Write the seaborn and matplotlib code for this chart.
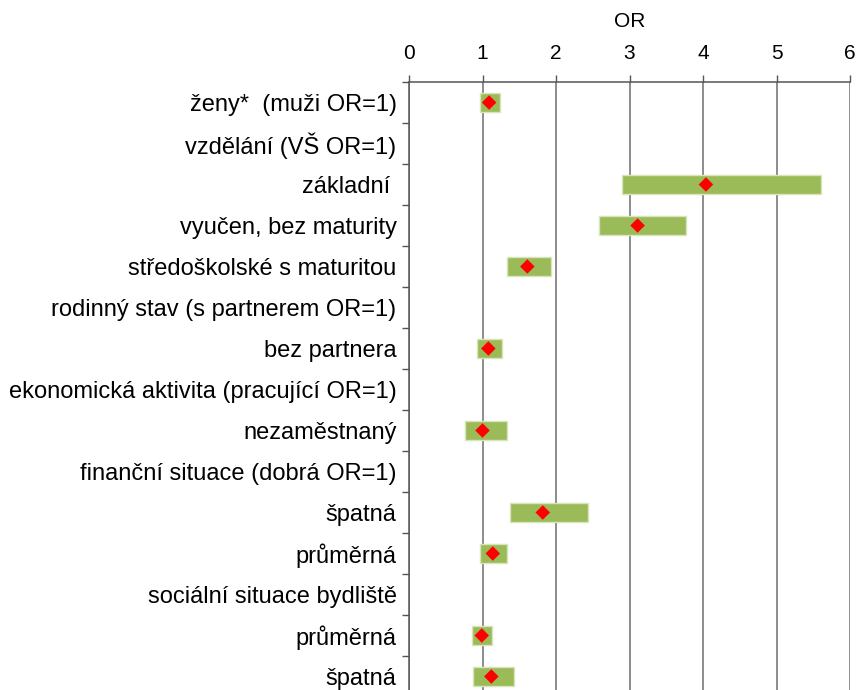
import numpy as np
import pandas as pd
import matplotlib
matplotlib.use("Agg")
import matplotlib.pyplot as plt
import seaborn as sns

# Odds ratios with 95% confidence intervals (NaN rows are group headers)
labels = [
    "ženy*  (muži OR=1)",
    "vzdělání (VŠ OR=1)",
    "základní ",
    "vyučen, bez maturity",
    "středoškolské s maturitou",
    "rodinný stav (s partnerem OR=1)",
    "bez partnera",
    "ekonomická aktivita (pracující OR=1)",
    "nezaměstnaný",
    "finanční situace (dobrá OR=1)",
    "špatná",
    "průměrná",
    "sociální situace bydliště",
    "průměrná",
    "špatná",
]
odds_ratio = [1.09, np.nan, 4.04, 3.11, 1.61, np.nan, 1.08, np.nan, 1.00,
              np.nan, 1.82, 1.14, np.nan, 0.99, 1.12]
ci_low = [0.96, np.nan, 2.90, 2.59, 1.34, np.nan, 0.93, np.nan, 0.76,
          np.nan, 1.38, 0.96, np.nan, 0.86, 0.87]
ci_high = [1.24, np.nan, 5.61, 3.77, 1.93, np.nan, 1.27, np.nan, 1.33,
           np.nan, 2.43, 1.33, np.nan, 1.13, 1.43]
x_ticks = [0, 1, 2, 3, 4, 5, 6]

df = pd.DataFrame({
    "row": np.arange(len(labels)),
    "label": labels,
    "OR": odds_ratio,
    "lo": ci_low,
    "hi": ci_high,
})

sns.set_style("white")
plt.rcParams["font.family"] = ["Liberation Sans", "DejaVu Sans"]
plt.rcParams["text.color"] = "black"
plt.rcParams["axes.labelcolor"] = "black"
plt.rcParams["xtick.labelcolor"] = "black"
plt.rcParams["ytick.labelcolor"] = "black"

fig = plt.figure(figsize=(8.6, 6.9), dpi=100)
ax = fig.add_axes([409 / 860, 1 - 697 / 690, 441 / 860, 615 / 690])

# confidence interval bands
ci = df.dropna()
ax.barh(ci["row"], ci["hi"] - ci["lo"], left=ci["lo"], height=0.48,
        color="#9bbb59", edgecolor="#d8e4bc", linewidth=1.0, zorder=3)

# point estimates
sns.scatterplot(data=df.dropna(), x="OR", y="row", marker="D", s=55,
                color="#ff0000", edgecolor="none", linewidth=0, ax=ax,
                zorder=4, legend=False)

ax.set_xlim(0, 6)
ax.set_ylim(len(labels) - 0.5, -0.5)

# x axis on top with vertical gridlines
ax.xaxis.tick_top()
ax.xaxis.set_label_position("top")
ax.set_xticks(x_ticks)
ax.set_xticklabels([str(t) for t in x_ticks], fontsize=15)
ax.set_xlabel("OR", fontsize=15, labelpad=12)
ax.tick_params(axis="x", which="major", direction="out", length=5,
               width=1, color="#555555", pad=9, top=True, bottom=False)
ax.grid(axis="x", color="#6e6e6e", linewidth=1.1, zorder=0)
ax.set_axisbelow(True)

# y axis: labels at row centres, short ticks at row boundaries
ax.set_yticks(df["row"])
ax.set_yticklabels(labels, fontsize=17)
ax.set_yticks(np.arange(len(labels) + 1) - 0.5, minor=True)
ax.tick_params(axis="y", which="major", length=0, pad=9)
ax.tick_params(axis="y", which="minor", direction="out", length=5,
               width=1, color="#555555", left=True)
ax.set_ylabel("")

for side in ("right", "bottom"):
    ax.spines[side].set_visible(False)
for side in ("top", "left"):
    ax.spines[side].set_color("#555555")
    ax.spines[side].set_linewidth(1.1)

fig.savefig("out.png", dpi=100)
